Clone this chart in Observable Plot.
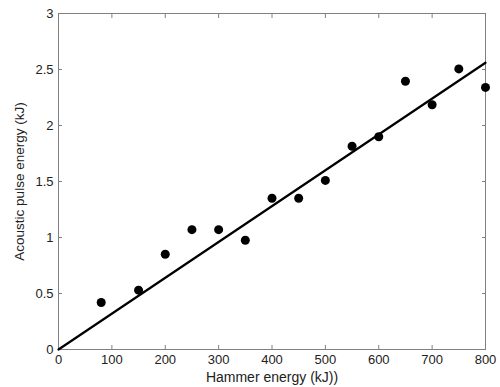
<!DOCTYPE html>
<html>
<head>
<meta charset="utf-8">
<script src="https://cdn.jsdelivr.net/npm/d3@7"></script>
<script src="https://cdn.jsdelivr.net/npm/@observablehq/plot@0.6"></script>
<style>
html, body { margin: 0; padding: 0; background: #fff; }
svg { font-family: "Liberation Sans", Arial, sans-serif; }
</style>
</head>
<body>
<div id="chart"></div>
<script>
const hammer = [80, 150, 200, 250, 300, 350, 400, 450, 500, 550, 600, 650, 700, 750, 800];
const pulse = [0.42, 0.53, 0.85, 1.07, 1.07, 0.975, 1.35, 1.35, 1.51, 1.815, 1.9, 2.395, 2.185, 2.505, 2.34];
const fitX = [0, 800];
const fitY = [0, 2.56];
const xTicks = [0, 100, 200, 300, 400, 500, 600, 700, 800];
const yTicks = [0, 0.5, 1, 1.5, 2, 2.5, 3];

const points = hammer.map((x, i) => ({x, y: pulse[i]}));
const fit = fitX.map((x, i) => ({x, y: fitY[i]}));
const axisColor = "#808080";
const textColor = "#222";

const W = 500, H = 387, mL = 58, mR = 15, mT = 13, mB = 38, tk = 4;

const chart = Plot.plot({
  width: W,
  height: H,
  marginLeft: mL,
  marginRight: mR,
  marginTop: mT,
  marginBottom: mB,
  x: {domain: [0, 800]},
  y: {domain: [0, 3]},
  style: {fontSize: "13px", color: textColor, background: "#fff"},
  marks: [
    Plot.frame({stroke: axisColor, strokeWidth: 1}),
    // inward ticks on all four sides
    Plot.axisX(xTicks, {anchor: "bottom", tickSize: tk, dy: -tk, stroke: axisColor, tickFormat: () => "", label: null}),
    Plot.axisX(xTicks, {anchor: "top", tickSize: tk, dy: tk, stroke: axisColor, tickFormat: () => "", label: null}),
    Plot.axisY(yTicks, {anchor: "left", tickSize: tk, dx: tk, stroke: axisColor, tickFormat: () => "", label: null}),
    Plot.axisY(yTicks, {anchor: "right", tickSize: tk, dx: -tk, stroke: axisColor, tickFormat: () => "", label: null}),
    // tick labels
    Plot.axisX(xTicks, {anchor: "bottom", tickSize: 0, tickPadding: 5, fontSize: 13, fill: textColor,
      tickFormat: d => String(d), label: null}),
    Plot.axisY(yTicks, {anchor: "left", tickSize: 0, tickPadding: 5, fontSize: 13, fill: textColor,
      tickFormat: d => String(d), label: null}),
    // axis titles
    Plot.axisX({anchor: "bottom", ticks: [], label: "Hammer energy (kJ))", labelAnchor: "center",
      labelArrow: "none", labelOffset: 32, fontSize: 14, fill: textColor}),
    Plot.axisY({anchor: "left", ticks: [], label: "Acoustic pulse energy (kJ)", labelAnchor: "center",
      labelArrow: "none", labelOffset: 44, fontSize: 13.5, fill: textColor}),
    Plot.line(fit, {x: "x", y: "y", stroke: "#000", strokeWidth: 2.2}),
    Plot.dot(points, {x: "x", y: "y", r: 4.5, fill: "#000", stroke: "none"})
  ]
});
document.getElementById("chart").appendChild(chart);
</script>
</body>
</html>
